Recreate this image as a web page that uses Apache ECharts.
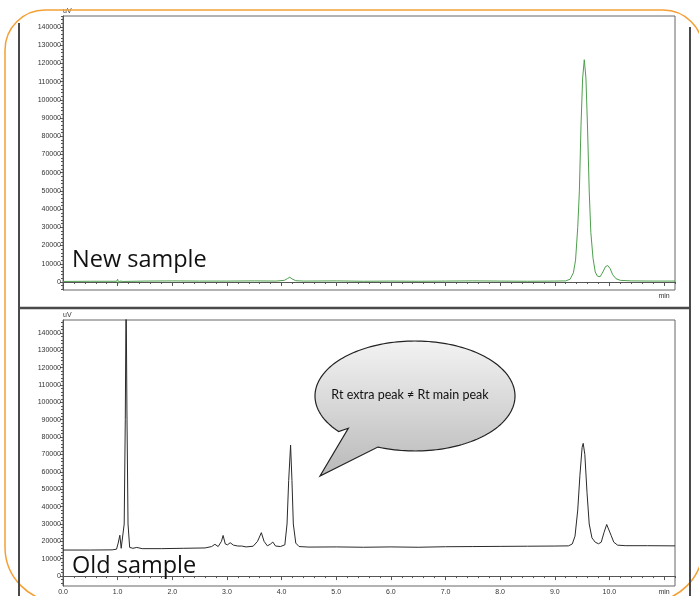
<!DOCTYPE html>
<html><head><meta charset="utf-8">
<script src="https://cdn.jsdelivr.net/npm/echarts@6/dist/echarts.min.js"></script>
<style>html,body{margin:0;padding:0;background:#fff}#c{width:699px;height:596px}</style>
</head><body><div id="c"></div>
<script>
// ---- data ----
const newTimes  = [0.00, 0.50, 0.98, 1.00, 1.02, 1.04, 1.10, 1.50, 2.00, 2.50, 3.00, 3.50, 3.90, 4.05, 4.11, 4.15, 4.19, 4.26, 4.40, 5.00, 5.50, 6.00, 6.50, 7.00, 7.50, 8.00, 8.50, 9.00, 9.20, 9.28, 9.34, 9.38, 9.42, 9.45, 9.48, 9.51, 9.54, 9.57, 9.60, 9.63, 9.66, 9.70, 9.74, 9.78, 9.83, 9.88, 9.93, 9.97, 10.01, 10.06, 10.12, 10.20, 10.40, 10.80, 11.20];
const newValues = [300, 400, 400, 1500, -700, 500, 300, 500, 600, 500, 500, 600, 500, 900, 1900, 2600, 1700, 700, 500, 600, 400, 500, 400, 500, 600, 500, 400, 500, 600, 1500, 5000, 12000, 30000, 50000, 86000, 112000, 122000, 112000, 84000, 50000, 27000, 13000, 5500, 3200, 2900, 5500, 8500, 9000, 7500, 4000, 1800, 900, 600, 500, 500];

const oldTimes  = [0.00, 0.50, 0.90, 0.98, 1.01, 1.04, 1.065, 1.09, 1.12, 1.14, 1.155, 1.17, 1.19, 1.22, 1.28, 1.35, 1.45, 1.80, 2.20, 2.60, 2.72, 2.78, 2.84, 2.90, 2.93, 2.97, 3.01, 3.06, 3.12, 3.20, 3.27, 3.35, 3.48, 3.56, 3.63, 3.68, 3.74, 3.80, 3.84, 3.89, 3.98, 4.06, 4.10, 4.13, 4.165, 4.19, 4.215, 4.26, 4.32, 4.50, 5.00, 5.50, 6.00, 6.50, 7.00, 7.50, 8.00, 8.50, 9.00, 9.25, 9.32, 9.37, 9.42, 9.46, 9.50, 9.52, 9.55, 9.59, 9.63, 9.68, 9.74, 9.80, 9.85, 9.90, 9.95, 9.98, 10.03, 10.08, 10.15, 10.30, 10.70, 11.20];
const oldValues = [15000, 15000, 15100, 15500, 19000, 23500, 16000, 15500, 30000, 90000, 165000, 95000, 30000, 16500, 16000, 16500, 15800, 15800, 16000, 16200, 17000, 18300, 17000, 20000, 23400, 18500, 18000, 19200, 17800, 17300, 17300, 16800, 17200, 20000, 25000, 20000, 17400, 18500, 19600, 17300, 17000, 18000, 30000, 55000, 75400, 55000, 30000, 19000, 17000, 16700, 16800, 16600, 16800, 16600, 16900, 17000, 17100, 17200, 17300, 17400, 18500, 23000, 38000, 58000, 74000, 76400, 70000, 48000, 30000, 22000, 19500, 18600, 19500, 25000, 29700, 29000, 23500, 19500, 17800, 17500, 17500, 17400];

const xMajorTicks = [0, 1, 2, 3, 4, 5, 6, 7, 8, 9, 10, 11];
const xMinorTicks = [0.2, 0.4, 0.6, 0.8, 1.2, 1.4, 1.6, 1.8, 2.2, 2.4, 2.6, 2.8, 3.2, 3.4, 3.6, 3.8, 4.2, 4.4, 4.6, 4.8, 5.2, 5.4, 5.6, 5.8, 6.2, 6.4, 6.6, 6.8, 7.2, 7.4, 7.6, 7.8, 8.2, 8.4, 8.6, 8.8, 9.2, 9.4, 9.6, 9.8, 10.2, 10.4, 10.6, 10.8, 11.2];
const yMajorTicks = [0, 10000, 20000, 30000, 40000, 50000, 60000, 70000, 80000, 90000, 100000, 110000, 120000, 130000, 140000];
const yMinorTicks = [];
for (let v = -4000; v <= 146000; v += 2000) yMinorTicks.push(v);

const panelLabels = ['New sample', 'Old sample'];
const calloutText = 'Rt extra peak \u2260 Rt main peak';

// ---- chart ----
const chart = echarts.init(document.getElementById('c'), null, {renderer: 'canvas'});
const pairs = (t, v) => t.map((x, i) => [x, v[i]]);
const axisColor = '#555';
const tickFont = {fontSize: 7, color: '#333', fontFamily: 'Liberation Sans'};

function xAxes(grid, labels) {
  return [
    {gridIndex: grid, type: 'value', position: 'bottom', min: 0, max: 11.2,
     axisLine: {lineStyle: {color: axisColor, width: 1}}, splitLine: {show: false},
     axisTick: {customValues: xMajorTicks, length: 4, lineStyle: {color: axisColor}},
     axisLabel: Object.assign({customValues: labels ? xMajorTicks : [11], margin: 3,
       formatter: v => v === 11 ? 'min' : (labels ? v.toFixed(1) : '')}, tickFont)},
    {gridIndex: grid, type: 'value', position: 'bottom', min: 0, max: 11.2,
     axisLine: {show: false}, splitLine: {show: false},
     axisTick: {customValues: xMinorTicks, length: 2, lineStyle: {color: axisColor}},
     axisLabel: {show: false}}
  ];
}
function yAxes(grid, min, max) {
  return [
    {gridIndex: grid, type: 'value', position: 'left', offset: 0, min: min, max: max,
     name: 'uV', nameLocation: 'end', nameGap: 1,
     nameTextStyle: {fontSize: 7, color: '#333', fontFamily: 'Liberation Sans', align: 'left', padding: [0, 0, 0, 0]},
     axisLine: {show: true, lineStyle: {color: axisColor, width: 1}}, splitLine: {show: false},
     axisTick: {customValues: yMajorTicks, length: 3, lineStyle: {color: axisColor}},
     axisLabel: Object.assign({customValues: yMajorTicks, margin: 2, formatter: v => String(Math.round(v))}, tickFont)},
    {gridIndex: grid, type: 'value', position: 'left', offset: 0, min: min, max: max,
     axisLine: {show: false}, splitLine: {show: false},
     axisTick: {customValues: yMinorTicks, length: 2, lineStyle: {color: axisColor}},
     axisLabel: {show: false}}
  ];
}

// speech bubble outline (decoration)
const cx = 415, cy = 396, rx = 100, ry = 55;
const bubblePts = [];
for (let a = 111.8; a >= -221.4; a -= 2) {
  const r = a * Math.PI / 180;
  bubblePts.push([cx + rx * Math.cos(r), cy + ry * Math.sin(r)]);
}
bubblePts.push([348.3, 428.3]);
bubblePts.push([320, 476]);

const option = {
  animation: false,
  backgroundColor: '#fff',
  grid: [
    {left: 63, top: 16, width: 612, height: 274, show: true, borderColor: '#666', borderWidth: 1, backgroundColor: 'transparent'},
    {left: 63, top: 320, width: 612, height: 267, show: true, borderColor: '#666', borderWidth: 1, backgroundColor: 'transparent'}
  ],
  xAxis: xAxes(0, false).concat(xAxes(1, true)),
  yAxis: yAxes(0, -4400, 146000).concat(yAxes(1, -5700, 147400)),
  series: [
    {type: 'line', xAxisIndex: 0, yAxisIndex: 0, data: pairs(newTimes, newValues),
     showSymbol: false, symbol: 'none', clip: true, lineStyle: {color: '#4d9f4d', width: 1}},
    {type: 'line', xAxisIndex: 2, yAxisIndex: 2, data: pairs(oldTimes, oldValues),
     showSymbol: false, symbol: 'none', clip: true, lineStyle: {color: '#2a2a2a', width: 1}}
  ],
  graphic: [
    {type: 'rect', z: 50, silent: true, shape: {x: 5, y: 10, width: 698, height: 592, r: [40, 40, 55, 55]},
     style: {fill: 'none', stroke: '#F4A036', lineWidth: 1.5}},
    {type: 'line', z: 50, silent: true, shape: {x1: 19, y1: 23, x2: 19, y2: 596}, style: {stroke: '#4a4a4a', lineWidth: 2}},
    {type: 'line', z: 50, silent: true, shape: {x1: 690, y1: 27, x2: 690, y2: 596}, style: {stroke: '#4a4a4a', lineWidth: 2}},
    {type: 'line', z: 50, silent: true, shape: {x1: 19, y1: 308, x2: 690, y2: 308}, style: {stroke: '#4a4a4a', lineWidth: 2.5}},
    {type: 'text', z: 60, silent: true, style: {x: 72, y: 260, text: panelLabels[0], font: '23.5px "Open Sans"', fill: '#111', verticalAlign: 'middle'}},
    {type: 'text', z: 60, silent: true, style: {x: 72, y: 566, text: panelLabels[1], font: '23.5px "Open Sans"', fill: '#111', verticalAlign: 'middle'}},
    {type: 'polygon', z: 70, silent: true, shape: {points: bubblePts},
     style: {fill: {type: 'linear', x: 0, y: 0, x2: 0, y2: 1, colorStops: [{offset: 0, color: '#f3f3f3'}, {offset: 1, color: '#b9b9b9'}]},
             stroke: '#222', lineWidth: 1.2}},
    {type: 'text', z: 71, silent: true, style: {x: 410, y: 395, text: calloutText, font: '12.5px Lato', fill: '#111', align: 'center', verticalAlign: 'middle'}}
  ]
};
chart.setOption(option);
</script></body></html>
